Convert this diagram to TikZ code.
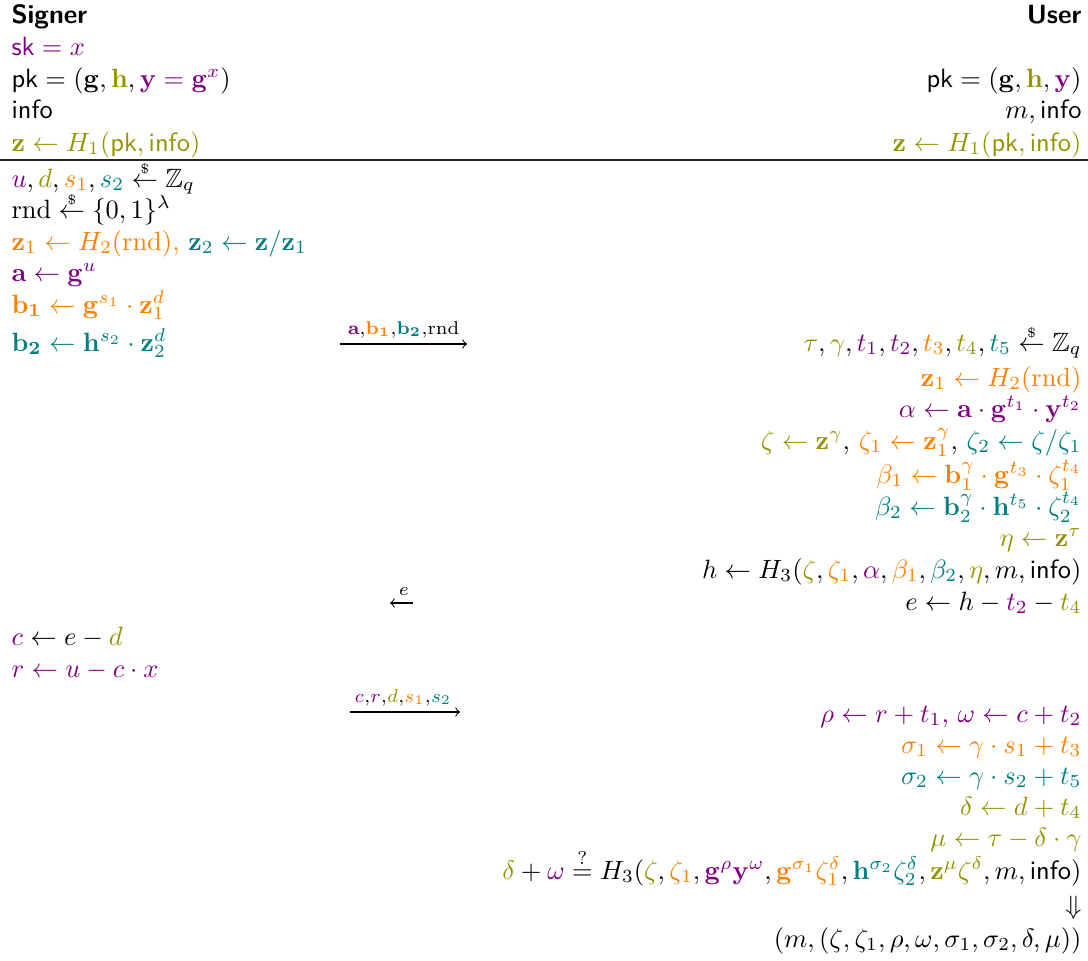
\documentclass[tikz,border=0pt]{standalone}
\usepackage{amsmath,amssymb}
\definecolor{colP}{rgb}{0.5,0,0.5}
\definecolor{colO}{rgb}{0.58,0.58,0}
\definecolor{colR}{rgb}{1,0.5,0}
\definecolor{colT}{rgb}{0,0.5,0.5}
\newcommand{\cP}[1]{{\color{colP}#1}}
\newcommand{\cO}[1]{{\color{colO}#1}}
\newcommand{\cR}[1]{{\color{colR}#1}}
\newcommand{\cT}[1]{{\color{colT}#1}}
\newcommand{\samp}{\mathrel{\overset{\raisebox{-0.25ex}{$\scriptscriptstyle\$$}}{\leftarrow}}}
\newcommand{\sktxt}{\textsf{sk}}
\newcommand{\pkk}{\textsf{pk}}
\newcommand{\infotxt}{\textsf{info}}
\newcommand{\rnd}{\mathrm{rnd}}
\begin{document}
\begin{tikzpicture}[x=0.378pt,y=-0.378pt,
  lt/.style={anchor=base west,inner sep=0pt},
  rt/.style={anchor=base east,inner sep=0pt},
  msg/.style={line width=0.4pt},
  lab/.style={anchor=base,inner sep=0pt}]
\useasboundingbox (0,0) rectangle (1088,960);
% headers
\node[lt] (signer) at (11,24) {\textsf{\bfseries Signer}};
\node[rt] (user) at (1082,24) {\textsf{\bfseries User}};
% signer setup
\node[lt] (s1) at (11,55) {\cP{$\sktxt = x$}};
\node[lt] (s2) at (11,87) {$\pkk = (\mathbf{g}, \cO{\mathbf{h}}, \cP{\mathbf{y} = \mathbf{g}^x})$};
\node[lt] (s3) at (11,118) {\infotxt};
\node[lt] (s4) at (11,151) {\cO{$\mathbf{z} \leftarrow H_1(\pkk, \infotxt)$}};
% user setup
\node[rt] (u2) at (1082,87) {$\pkk = (\mathbf{g}, \cO{\mathbf{h}}, \cP{\mathbf{y}})$};
\node[rt] (u3) at (1082,118) {$m, \infotxt$};
\node[rt] (u4) at (1082,151) {\cO{$\mathbf{z} \leftarrow H_1(\pkk, \infotxt)$}};
% rule
\coordinate (rl) at (0,160);
\coordinate (rr) at (1088,160);
\draw[line width=0.5pt,black!85] (rl) -- (rr);
% signer step 1
\node[lt] (a1) at (11,187) {$\cP{u}, \cO{d}, \cR{s_1}, \cT{s_2} \samp \mathbb{Z}_q$};
\node[lt] (a2) at (11,218) {$\rnd \samp \{0,1\}^\lambda$};
\node[lt] (a3) at (11,250) {$\cR{\mathbf{z}_1 \leftarrow H_2(\rnd){,}}\ \cT{\mathbf{z}_2 \leftarrow \mathbf{z}/\mathbf{z}_1}$};
\node[lt] (a4) at (11,281) {\cP{$\mathbf{a} \leftarrow \mathbf{g}^u$}};
\node[lt] (a5) at (11,313) {\cR{$\mathbf{b_1} \leftarrow \mathbf{g}^{s_1} \cdot \mathbf{z}_1^d$}};
\node[lt] (a6) at (11,351) {\cT{$\mathbf{b_2} \leftarrow \mathbf{h}^{s_2} \cdot \mathbf{z}_2^d$}};
% message 1
\coordinate (m1a) at (340,344);
\coordinate (m1b) at (467,344);
\draw[msg,->] (m1a) -- (m1b);
\node[lab] (m1l) at (403.5,334) {$\scriptstyle\cP{\mathbf{a}},\cR{\mathbf{b_1}},\cT{\mathbf{b_2}},\rnd$};
% user step
\node[rt] (b1) at (1082,351) {$\cO{\tau}, \cO{\gamma}, \cP{t_1}, \cP{t_2}, \cR{t_3}, \cO{t_4}, \cT{t_5} \samp \mathbb{Z}_q$};
\node[rt] (b2) at (1082,386) {\cR{$\mathbf{z}_1 \leftarrow H_2(\rnd)$}};
\node[rt] (b3) at (1082,417) {\cP{$\alpha \leftarrow \mathbf{a} \cdot \mathbf{g}^{t_1} \cdot \mathbf{y}^{t_2}$}};
\node[rt] (b4) at (1082,449) {$\cO{\zeta \leftarrow \mathbf{z}^\gamma}{,}\ \cR{\zeta_1 \leftarrow \mathbf{z}_1^\gamma}{,}\ \cT{\zeta_2 \leftarrow \zeta/\zeta_1}$};
\node[rt] (b5) at (1082,483) {\cR{$\beta_1 \leftarrow \mathbf{b}_1^\gamma \cdot \mathbf{g}^{t_3} \cdot \zeta_1^{t_4}$}};
\node[rt] (b6) at (1082,515) {\cT{$\beta_2 \leftarrow \mathbf{b}_2^\gamma \cdot \mathbf{h}^{t_5} \cdot \zeta_2^{t_4}$}};
\node[rt] (b7) at (1082,546) {\cO{$\eta \leftarrow \mathbf{z}^\tau$}};
\node[rt] (b8) at (1082,578) {$h \leftarrow H_3(\cO{\zeta}, \cR{\zeta_1}, \cP{\alpha}, \cR{\beta_1}, \cT{\beta_2}, \cO{\eta}, m, \infotxt)$};
\node[rt] (b9) at (1082,610) {$e \leftarrow h - \cP{t_2} - \cO{t_4}$};
% message 2
\coordinate (m2a) at (413,603);
\coordinate (m2b) at (390,603);
\draw[msg,->] (m2a) -- (m2b);
\node[lab] (m2l) at (404,595) {$\scriptstyle e$};
% signer step 2
\node[lt] (c1) at (11,645) {$\cP{c} \leftarrow e - \cO{d}$};
\node[lt] (c2) at (11,677) {\cP{$r \leftarrow u - c \cdot x$}};
% message 3
\coordinate (m3a) at (350,712);
\coordinate (m3b) at (460,712);
\draw[msg,->] (m3a) -- (m3b);
\node[lab] (m3l) at (403,702) {$\scriptstyle\cP{c},\cP{r},\cO{d},\cR{s_1},\cT{s_2}$};
% user final
\node[rt] (d1) at (1082,722) {\cP{$\rho \leftarrow r + t_1{,}\ \omega \leftarrow c + t_2$}};
\node[rt] (d2) at (1082,753) {\cR{$\sigma_1 \leftarrow \gamma \cdot s_1 + t_3$}};
\node[rt] (d3) at (1082,784) {\cT{$\sigma_2 \leftarrow \gamma \cdot s_2 + t_5$}};
\node[rt] (d4) at (1082,815) {\cO{$\delta \leftarrow d + t_4$}};
\node[rt] (d5) at (1082,846) {\cO{$\mu \leftarrow \tau - \delta \cdot \gamma$}};
\node[rt] (d6) at (1082,879) {$\cO{\delta} + \cP{\omega} \stackrel{?}{=} H_3(\cO{\zeta}, \cR{\zeta_1}, \cP{\mathbf{g}^\rho \mathbf{y}^\omega}, \cR{\mathbf{g}^{\sigma_1} \zeta_1^\delta}, \cT{\mathbf{h}^{\sigma_2} \zeta_2^\delta}, \cO{\mathbf{z}^\mu \zeta^\delta}, m, \infotxt)$};
\node[rt] (d7) at (1082,914) {$\Downarrow$};
\node[rt] (d8) at (1082,947) {$(m, (\zeta, \zeta_1, \rho, \omega, \sigma_1, \sigma_2, \delta, \mu))$};
\end{tikzpicture}
\end{document}
